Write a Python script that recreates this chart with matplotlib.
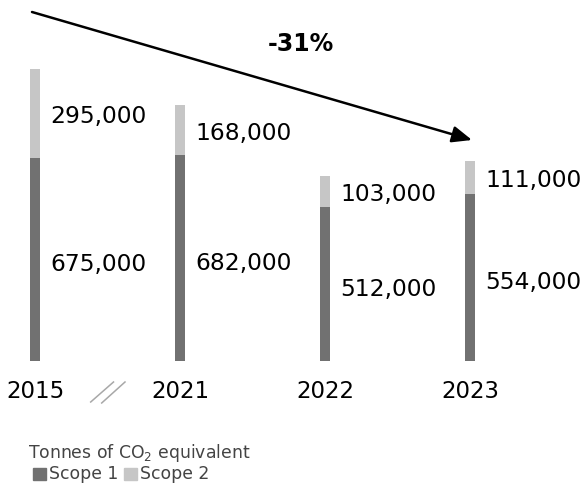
import matplotlib.pyplot as plt
from matplotlib.patches import Rectangle

plt.rcParams['font.family'] = ['DejaVu Sans']
plt.rcParams['mathtext.default'] = 'regular'

years = ['2015', '2021', '2022', '2023']
scope1 = [675000, 682000, 512000, 554000]
scope2 = [295000, 168000, 103000, 111000]
change = '-31%'

c1 = '#717171'
c2 = '#c6c6c6'

W, H = 582, 483
fig = plt.figure(figsize=(W / 100, H / 100), dpi=100)
ax = fig.add_axes([0, 0, 1, 1])
# bar spacing 145 px, first bar at 35 px, baseline at 360.5 px
ax.set_xlim(-35 / 145, (W - 35) / 145)
ax.set_ylim((360.5 - H) / 0.0003007, 360.5 / 0.0003007)
ax.axis('off')

x = list(range(len(years)))
bw = 10 / 145
ax.bar(x, scope1, width=bw, color=c1)
ax.bar(x, scope2, bottom=scope1, width=bw, color=c2)

for i in x:
    ax.annotate(f'{scope1[i]:,}', (i, scope1[i] / 2), xytext=(10.8, -4),
                textcoords='offset points', ha='left', va='center', fontsize=16.8)
    ax.annotate(f'{scope2[i]:,}', (i, scope1[i] + scope2[i] / 2), xytext=(10.8, -2.2),
                textcoords='offset points', ha='left', va='center', fontsize=16.8)
    ax.annotate(years[i], (i, 0), xytext=(0, -22), textcoords='offset points',
                ha='center', va='center', fontsize=16.5)

def fx(px):
    return px / W

def fy(py):
    return 1 - py / H

# trend arrow
ax.annotate('', xy=(fx(472), fy(140)), xytext=(fx(32), fy(12)), xycoords='axes fraction',
            arrowprops=dict(arrowstyle='-|>,head_length=1.2,head_width=0.5',
                            color='black', lw=1.8, shrinkA=0, shrinkB=0))
ax.text(fx(301), fy(44), change, transform=ax.transAxes, ha='center', va='center',
        fontsize=17, fontweight='bold')

# axis break mark
for x0, y0, x1, y1 in [(90.7, 402, 113.5, 382), (101.7, 403, 125, 382)]:
    ax.plot([fx(x0), fx(x1)], [fy(y0), fy(y1)], transform=ax.transAxes,
            color='#a8a8a8', lw=1.1)

# legend
ax.text(fx(28), fy(453), 'Tonnes of CO$_2$ equivalent', transform=ax.transAxes,
        fontsize=12.4, color='#444444', va='center')
for px, col, lab in [(33, c1, 'Scope 1'), (124, c2, 'Scope 2')]:
    ax.add_patch(Rectangle((fx(px), fy(480)), 13 / W, 12 / H, transform=ax.transAxes,
                           color=col))
    ax.text(fx(px + 16), fy(474), lab, transform=ax.transAxes, fontsize=12.4,
            color='#444444', va='center')

fig.savefig('out.png', dpi=100)
